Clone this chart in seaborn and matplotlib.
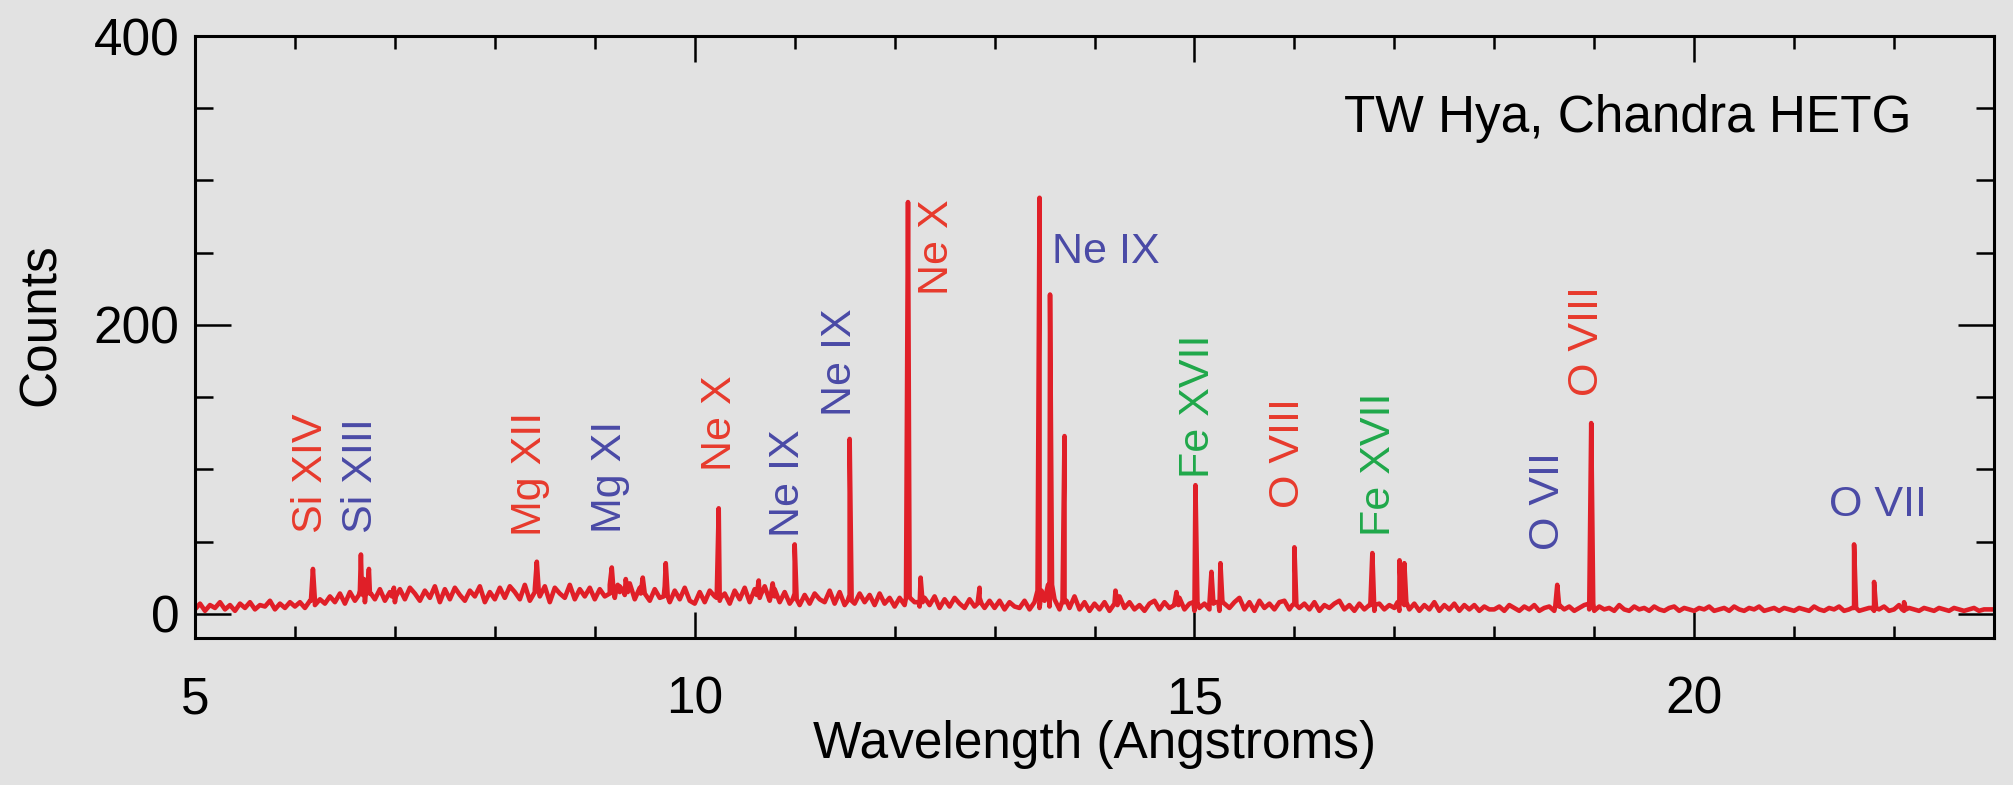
import numpy as np
import pandas as pd
import matplotlib
matplotlib.use("Agg")
import matplotlib.pyplot as plt
from matplotlib.ticker import MultipleLocator, FixedLocator
import seaborn as sns

# ---------------- data ----------------
# continuum samples every 0.05 Angstrom from 5.00 to 23.00 (counts)
cont_start = 5.0
cont_step = 0.05
continuum = [
    3, 7, 2, 6, 4, 8, 3, 6, 2, 7, 4, 8, 3, 6, 5, 9, 3, 7, 4, 8,            # 5
    5, 8, 4, 9, 6, 10, 7, 12, 8, 14, 7, 15, 9, 16, 8, 14, 10, 17, 9, 15,   # 6
    8, 17, 10, 18, 14, 9, 16, 11, 19, 8, 17, 10, 18, 13, 9, 16, 12, 19, 8, 15,  # 7
    10, 18, 11, 19, 15, 10, 20, 9, 17, 12, 19, 8, 18, 14, 11, 20, 10, 17, 12, 18,  # 8
    10, 17, 12, 20, 11, 19, 13, 21, 10, 18, 14, 9, 17, 11, 19, 8, 16, 10, 18, 9,  # 9
    7, 15, 8, 16, 12, 9, 14, 7, 16, 10, 18, 8, 17, 11, 19, 9, 17, 8, 15, 7,  # 10
    14, 6, 13, 7, 14, 10, 8, 16, 7, 15, 6, 13, 7, 14, 8, 13, 6, 14, 7, 11,  # 11
    5, 11, 6, 12, 8, 5, 11, 6, 12, 4, 10, 5, 11, 7, 4, 10, 5, 11, 4, 9,  # 12
    4, 9, 3, 8, 5, 4, 9, 3, 8, 4, 9, 5, 10, 3, 8, 4, 12, 3, 8, 2,  # 13
    7, 3, 8, 2, 7, 12, 4, 8, 3, 6, 2, 7, 9, 3, 8, 4, 7, 11, 3, 7,  # 14
    2, 4, 7, 3, 8, 2, 7, 4, 8, 11, 3, 8, 2, 9, 4, 7, 3, 8, 9, 3,  # 15
    7, 4, 7, 3, 8, 2, 6, 4, 7, 9, 3, 6, 2, 7, 3, 6, 2, 7, 3, 6,  # 16
    4, 2, 6, 3, 7, 2, 6, 3, 8, 2, 6, 3, 7, 2, 6, 3, 6, 2, 5, 3,  # 17
    3, 5, 2, 6, 4, 2, 5, 3, 6, 2, 4, 5, 2, 6, 3, 5, 2, 4, 6, 3,  # 18
    2, 5, 3, 4, 2, 6, 3, 2, 5, 3, 4, 2, 5, 3, 2, 4, 5, 2, 4, 3,  # 19
    2, 4, 3, 5, 2, 3, 4, 2, 5, 3, 2, 4, 3, 5, 2, 3, 4, 2, 4, 3,  # 20
    2, 4, 3, 2, 5, 3, 2, 4, 3, 5, 2, 3, 4, 2, 3, 4, 2, 3, 5, 2,  # 21
    3, 6, 2, 4, 3, 2, 4, 3, 2, 4, 3, 2, 4, 3, 2, 3, 4, 2, 3, 3,  # 22
    3,
]

# emission lines: centre wavelength (Angstrom), peak counts, local level at the line foot
line_wave = [6.18, 6.66, 6.69, 6.74, 6.99, 8.42, 9.17, 9.23, 9.31, 9.48, 9.71,
             10.24, 10.64, 10.78, 11.00, 11.55, 12.134, 12.26, 12.85, 13.45,
             13.555, 13.70, 14.21, 14.82, 15.01, 15.17, 15.26, 16.00, 16.78,
             17.052, 17.10, 18.63, 18.97, 21.60, 21.80, 22.10]
line_peak = [31, 41, 24, 31, 18, 36, 32, 20, 24, 25, 35,
             73, 23, 21, 48, 121, 285, 25, 18, 288,
             221, 123, 16, 15, 89, 29, 35, 46, 42,
             37, 35, 20, 132, 48, 22, 8]
line_foot = [9, 13, 15, 14, 12, 15, 14, 15, 15, 14, 12,
             11, 13, 12, 10, 9, 11, 8, 7, 16,
             20, 9, 6, 6, 8, 7, 8, 6, 6,
             8, 8, 5, 7, 4, 4, 3]
line_halfwidth = 0.02  # instrumental half width at the foot (Angstrom)

# line identifications: text, wavelength, y position (counts), colour key, rotation
label_text = ["Si XIV", "Si XIII", "Mg XII", "Mg XI", "Ne X", "Ne IX", "Ne IX",
              "Ne X", "Ne IX", "Fe XVII", "O VIII", "Fe XVII", "O VII", "O VIII", "O VII"]
label_wave = [6.16, 6.66, 8.35, 9.15, 10.25, 10.93, 11.45,
              12.42, 13.575, 15.04, 15.94, 16.85, 18.54, 18.93, 21.35]
label_y = [56, 56, 54, 56, 99, 53, 137, 221, 243, 94, 73, 54, 44, 151, 68]
label_kind = ["H", "He", "H", "He", "H", "He", "He", "H", "He", "Fe", "H", "Fe", "He", "H", "He"]
label_rot = [90, 90, 90, 90, 90, 90, 90, 90, 0, 90, 90, 90, 90, 90, 0]

title_text = "TW Hya, Chandra HETG"
x_label = "Wavelength (Angstroms)"
y_label = "Counts"
x_ticks = [5, 10, 15, 20]
y_ticks = [0, 200, 400]

# ---------------- styling ----------------
BG = "#e2e2e2"
LINE_RED = "#e01f28"
kind_color = {"H": "#e83a2c", "He": "#4a4aa6", "Fe": "#1fa84a"}

sns.set_theme(style="ticks")
plt.rcParams["font.family"] = ["Liberation Sans", "DejaVu Sans"]

cont_wave = cont_start + cont_step * np.arange(len(continuum))
lw_arr = np.asarray(line_wave, dtype=float)
df = pd.concat([
    pd.DataFrame({"wavelength": cont_wave, "counts": continuum}),
    pd.DataFrame({"wavelength": lw_arr - line_halfwidth, "counts": line_foot}),
    pd.DataFrame({"wavelength": lw_arr, "counts": line_peak}),
    pd.DataFrame({"wavelength": lw_arr + line_halfwidth, "counts": line_foot}),
]).sort_values("wavelength", kind="mergesort").reset_index(drop=True)

W, H = 2013, 785
fig = plt.figure(figsize=(W / 100, H / 100), dpi=100, facecolor=BG)
ax = fig.add_axes([195 / W, 1 - 638 / H, 1799 / W, 602 / H])
ax.set_facecolor(BG)

sns.lineplot(data=df, x="wavelength", y="counts", estimator=None, sort=True,
             color=LINE_RED, linewidth=3.3, ax=ax)

ax.set_xlim(5, 23)
ax.set_ylim(-16.8, 400)

ax.xaxis.set_major_locator(FixedLocator(x_ticks))
ax.xaxis.set_minor_locator(MultipleLocator(1))
ax.yaxis.set_major_locator(FixedLocator(y_ticks))
ax.yaxis.set_minor_locator(MultipleLocator(50))
ax.set_xticklabels([str(t) for t in x_ticks])
ax.set_yticklabels([str(t) for t in y_ticks])

for s in ax.spines.values():
    s.set_visible(True)
    s.set_linewidth(2.2)
    s.set_color("black")

ax.tick_params(axis="both", which="both", direction="in", top=True, right=True,
               width=1.8, color="black", labelsize=37, labelcolor="black")
ax.tick_params(axis="x", which="major", length=19, pad=27)
ax.tick_params(axis="x", which="minor", length=9)
ax.tick_params(axis="y", which="major", length=26, pad=11)
ax.tick_params(axis="y", which="minor", length=13)

ax.set_xlabel(x_label, fontsize=37, color="black")
ax.set_ylabel(y_label, fontsize=37, color="black")
ax.xaxis.set_label_coords(0.5, -0.137)
ax.yaxis.set_label_coords(-0.072, 0.52)

for t, xw, yv, k, r in zip(label_text, label_wave, label_y, label_kind, label_rot):
    if r == 90:
        ax.text(xw, yv, t, rotation=90, ha="center", va="bottom",
                fontsize=31, color=kind_color[k])
    else:
        ax.text(xw, yv, t, rotation=0, ha="left", va="baseline",
                fontsize=31, color=kind_color[k])

ax.text(0.954, 0.84, title_text, transform=ax.transAxes, ha="right", va="baseline",
        fontsize=37, color="black")

fig.savefig("out.png", dpi=100, facecolor=BG)
